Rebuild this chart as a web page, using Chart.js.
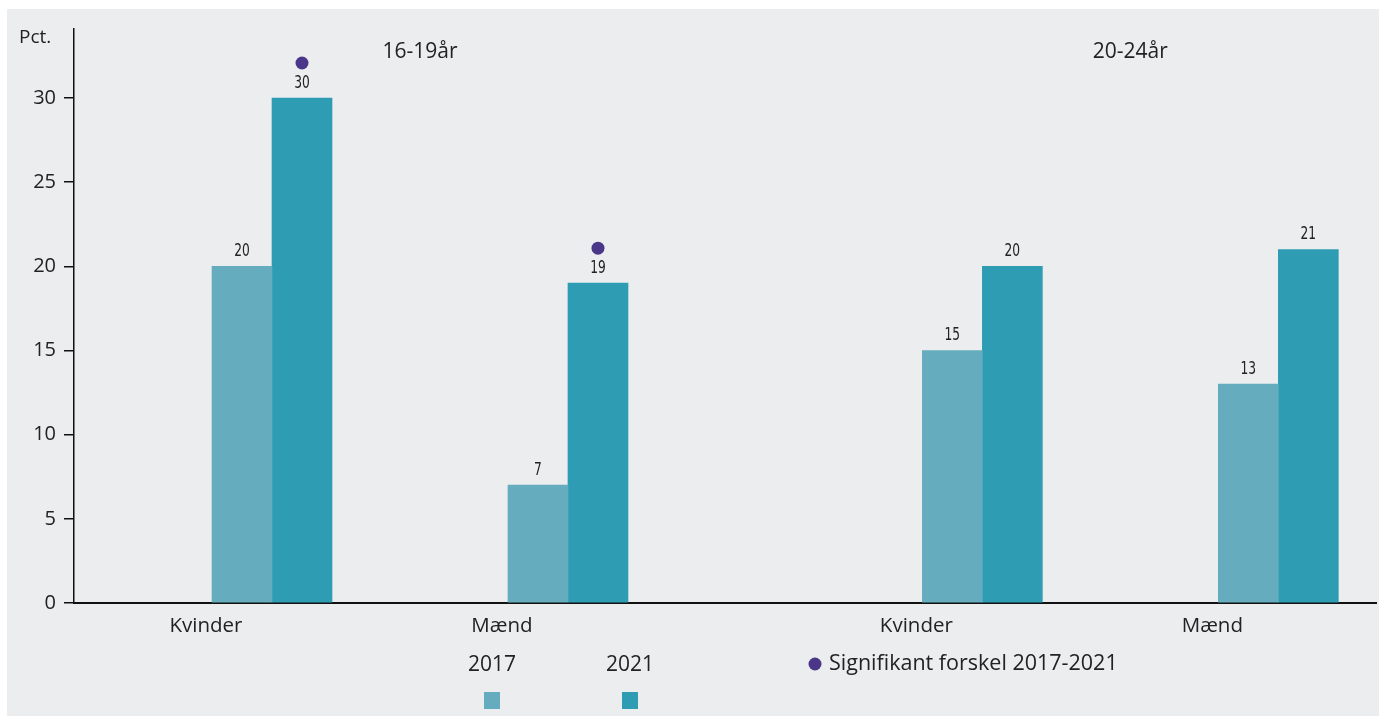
<!DOCTYPE html>
<html lang="da">
<head>
<meta charset="utf-8">
<script src="https://cdn.jsdelivr.net/npm/chart.js@4"></script>
<style>
  body { margin: 0; background: #fff; }
  #panel { position: absolute; left: 7px; top: 9px; width: 1372px; height: 707px; background: #ecedef; }
</style>
</head>
<body>
<div id="panel"><canvas id="unge"></canvas></div>
<script>
// Data
const kategorier = ['Kvinder', 'Mænd', 'Kvinder', 'Mænd'];
const aldersgrupper = ['16-19år', '20-24år'];
const gruppeIndeks = [0, 0, 1, 1];
const aarstal = ['2017', '2021'];
const vaerdier2017 = [20, 7, 15, 13];
const vaerdier2021 = [30, 19, 20, 21];
const signifikant = [true, true, false, false];
const yTicks = [0, 5, 10, 15, 20, 25, 30];
const signifikantTekst = 'Signifikant forskel 2017-2021';

const farve2017 = '#65adbe';
const farve2021 = '#2e9db3';
const prikFarve = '#4b3789';
const tekstFont = '"Open Sans", Lato, sans-serif';
const talFont = '"Liberation Sans Narrow", "DejaVu Sans Condensed", sans-serif';

// ekstra luft mellem de to aldersgrupper
const xPos = kategorier.map((_, i) => i + gruppeIndeks[i] * 0.4);
const tilPunkter = arr => arr.map((v, i) => ({ x: xPos[i], y: v }));

const tegnTekst = {
    id: 'tegnTekst',
    afterDatasetsDraw(chart) {
        const ctx = chart.ctx;
        const x = chart.scales.x;
        ctx.save();
        ctx.fillStyle = '#222';

        // tal over søjlerne (smal skrift)
        ctx.font = '17px ' + talFont;
        ctx.textAlign = 'center';
        ctx.textBaseline = 'bottom';
        chart.data.datasets.forEach((ds, d) => {
            chart.getDatasetMeta(d).data.forEach((bar, i) => {
                ctx.save();
                ctx.translate(bar.x, bar.y - 6);
                ctx.scale(0.8, 1);
                ctx.fillText(ds.data[i].y, 0, 0);
                ctx.restore();
            });
        });

        // signifikans-prikker
        const meta2021 = chart.getDatasetMeta(1);
        ctx.fillStyle = prikFarve;
        signifikant.forEach((s, i) => {
            if (!s) return;
            const bar = meta2021.data[i];
            ctx.beginPath();
            ctx.arc(bar.x, bar.y - 35, 6.5, 0, Math.PI * 2);
            ctx.fill();
        });

        // aldersgrupper
        ctx.fillStyle = '#222';
        ctx.font = '21px ' + tekstFont;
        ctx.textBaseline = 'middle';
        aldersgrupper.forEach((navn, g) => {
            const pos = xPos.filter((_, i) => gruppeIndeks[i] === g);
            const midt = (x.getPixelForValue(pos[0]) + x.getPixelForValue(pos[pos.length - 1])) / 2;
            ctx.fillText(navn, midt, 43);
        });

        // Pct.
        ctx.textAlign = 'left';
        ctx.font = '19px ' + tekstFont;
        ctx.fillText('Pct.', 12, 29);

        // forklaring
        ctx.font = '21px ' + tekstFont;
        const lx = [485, 623];
        ctx.textAlign = 'center';
        aarstal.forEach((aar, k) => {
            ctx.fillStyle = '#222';
            ctx.fillText(aar, lx[k], 656);
            ctx.fillStyle = chart.data.datasets[k].backgroundColor;
            ctx.fillRect(lx[k] - 8, 683, 16, 17);
        });
        ctx.fillStyle = prikFarve;
        ctx.beginPath();
        ctx.arc(808, 655, 6.5, 0, Math.PI * 2);
        ctx.fill();
        ctx.font = '21.5px ' + tekstFont;
        ctx.fillStyle = '#222';
        ctx.textAlign = 'left';
        ctx.fillText(signifikantTekst, 822, 655);
        ctx.restore();
    }
};

new Chart(document.getElementById('unge'), {
    type: 'bar',
    data: {
        datasets: [{
            label: aarstal[0],
            data: tilPunkter(vaerdier2017),
            backgroundColor: farve2017
        }, {
            label: aarstal[1],
            data: tilPunkter(vaerdier2021),
            backgroundColor: farve2021
        }]
    },
    options: {
        responsive: true,
        maintainAspectRatio: false,
        animation: false,
        barThickness: 60,
        layout: { padding: { top: 20, right: 3, bottom: 65, left: 0 } },
        plugins: { legend: { display: false }, tooltip: { enabled: false } },
        scales: {
            x: {
                type: 'linear',
                offset: false,
                min: -0.669,
                max: 3.73,
                afterBuildTicks: s => { s.ticks = xPos.map(v => ({ value: v })); },
                afterFit: s => { s.height = 48; },
                grid: { display: false, offset: false },
                border: { color: '#111', width: 2 },
                ticks: {
                    callback: (v, i) => kategorier[i],
                    labelOffset: -66,
                    padding: 3,
                    maxRotation: 0,
                    autoSkip: false,
                    color: '#222',
                    font: { family: tekstFont, size: 20.5 }
                }
            },
            y: {
                min: 0,
                max: 34.1,
                afterBuildTicks: s => { s.ticks = yTicks.map(v => ({ value: v })); },
                afterFit: s => { s.width = 67; },
                grid: { drawOnChartArea: false, tickLength: 10, color: '#111', lineWidth: 1.5 },
                border: { color: '#111', width: 1.5 },
                ticks: {
                    padding: 8,
                    color: '#222',
                    font: { family: tekstFont, size: 20 }
                }
            }
        }
    },
    plugins: [tegnTekst]
});
</script>
</body>
</html>
